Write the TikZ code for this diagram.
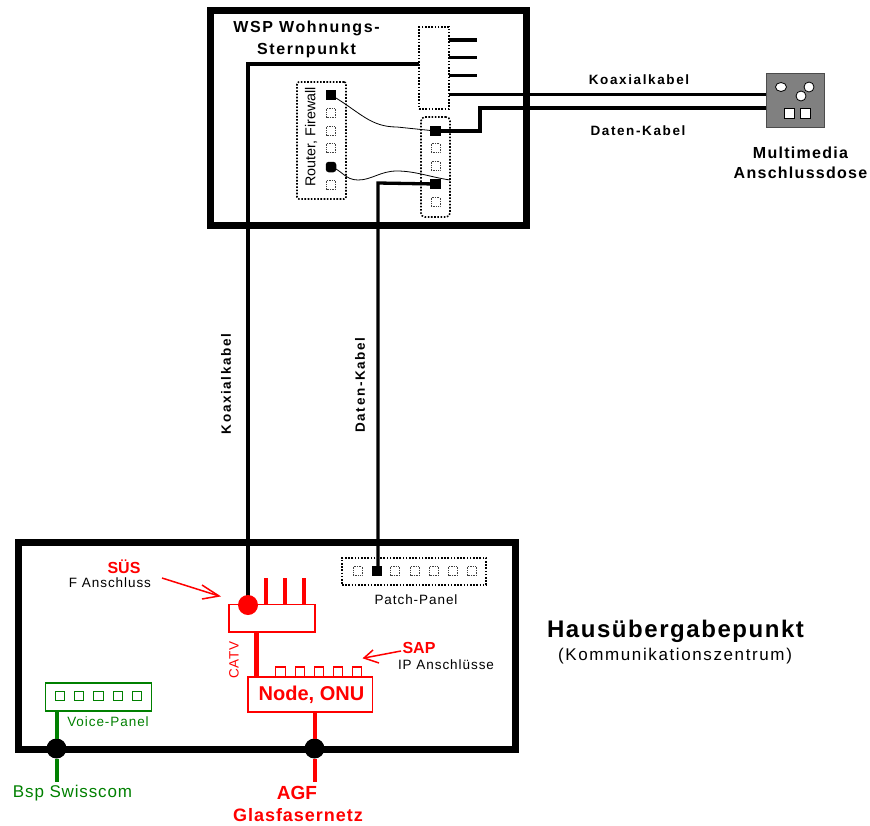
\documentclass[tikz,border=0pt]{standalone}
\usepackage{fontspec}
\usetikzlibrary{shapes.geometric}
\setmainfont{Liberation Sans}
\definecolor{rd}{RGB}{255,0,0}
\definecolor{gn}{RGB}{0,128,0}
\definecolor{dosegray}{RGB}{128,128,128}
\newcommand{\fsz}[1]{\fontsize{#1}{#1}\selectfont}
\newcommand{\spc}[1]{\addfontfeature{LetterSpace=#1}}
\begin{document}
\begin{tikzpicture}[x=1pt,y=-1pt,
  every node/.style={outer sep=0pt},
  heavybox/.style={draw=black,line width=7pt,inner sep=0pt,rectangle,anchor=north west},
  cable/.style={draw=black,line width=3.3pt},
  thincable/.style={draw=black,line width=0.8pt},
  dotbox/.style={draw=black,line width=1.6pt,dash pattern=on 1.6pt off 1.6pt,inner sep=0pt,anchor=north west},
  portempty/.style={draw=black!75,line width=0.7pt,dash pattern=on 1pt off 0.7pt,minimum size=9pt,inner sep=0pt,fill=white},
  portfull/.style={fill=black,minimum size=10.5pt,inner sep=0pt},
  redport/.style={draw=rd,line width=1.2pt,minimum width=9.5pt,minimum height=10pt,inner sep=0pt,fill=white},
  greenport/.style={draw=gn,line width=1.2pt,minimum size=9.5pt,inner sep=0pt},
  redbox/.style={draw=rd,line width=1.5pt,inner sep=0pt,anchor=north west,fill=white},
  redline/.style={draw=rd,line width=3.5pt},
  greenline/.style={draw=gn,line width=4pt},
  bk/.style={text=black,inner sep=0pt,align=center},
  bigdot/.style={circle,fill=black,minimum size=20pt,inner sep=0pt},
  cablelbl/.style={bk,font=\fsz{13.5}\bfseries\spc{12}},
  smalllbl/.style={bk,font=\fsz{13.5}\spc{7}},
  ]
\useasboundingbox (0,0) rectangle (870,825);

% WSP
\node[heavybox,minimum width=316pt,minimum height=215pt] (wsp) at (210,10) {};
\node[bk,font=\fsz{16}\bfseries\spc{10}] (wsptxt) at (306.5,39) {WSP Wohnungs-\\[6pt]Sternpunkt};
\node[dotbox,minimum width=30pt,minimum height=82pt] (split) at (419,27) {};
\node[dotbox,minimum width=49pt,minimum height=117pt,rounded corners=2pt] (router) at (297,82) {};
\node[dotbox,minimum width=29pt,minimum height=100pt,rounded corners=4pt] (wpatch) at (421,117) {};
\node[bk,rotate=90,font=\fsz{14.3}] (routertxt) at (311,137) {Router, Firewall};
\node[portfull] (r1) at (331,95) {};
\node[portempty] (r2) at (331,113) {};
\node[portempty] (r3) at (331,131) {};
\node[portempty] (r4) at (331,148) {};
\node[portfull,rounded corners=3pt] (r5) at (331,167) {};
\node[portempty] (r6) at (331,185) {};
\node[portfull] (w1) at (435.5,131) {};
\node[portempty] (w2) at (435.5,148) {};
\node[portempty] (w3) at (435.5,166) {};
\node[portfull] (w4) at (435.5,184) {};
\node[portempty] (w5) at (435.5,202) {};
\coordinate (c1) at (477,40);
\coordinate (c2) at (477,57.5);
\coordinate (c3) at (477,75.5);
\draw[cable] (449,40) -- (c1);
\draw[cable] (449,57.5) -- (c2);
\draw[cable] (449,75.5) -- (c3);
\coordinate (w4end) at (450,180);
\draw[thincable] (r1.center) .. controls (360,112) and (370,127) .. (397,127) -- (w1.center);
\draw[thincable] (r5.center) .. controls (342,170) and (345,180) .. (358,180) .. controls (372,180) and (380,171) .. (397,171) .. controls (415,171) and (430,177) .. (w4end);

% Dose
\node[draw=black!70,line width=1pt,fill=dosegray,minimum width=58pt,minimum height=54pt,inner sep=0pt,anchor=north west] (dose) at (766,73) {};
\node[ellipse,fill=white,draw=black,line width=.8pt,minimum width=11pt,minimum height=9pt,inner sep=0pt] (h1) at (781,87) {};
\node[circle,fill=white,draw=black,line width=.8pt,minimum width=10pt,inner sep=0pt] (h2) at (809,87) {};
\node[circle,fill=white,draw=black,line width=.8pt,minimum width=10pt,inner sep=0pt] (h3) at (801,96) {};
\node[fill=white,draw=black,line width=.8pt,minimum size=10pt,inner sep=0pt] (s1) at (789,113) {};
\node[fill=white,draw=black,line width=.8pt,minimum size=10pt,inner sep=0pt] (s2) at (805,113) {};
\coordinate (coaxout) at (449,94.5);
\coordinate (coaxin) at (766,94.5);
\coordinate (datin) at (766,108);
\draw[cable] (coaxout) -- (coaxin);
\draw[cable] (w1.center) -- (480,131) -- (480,108) -- (datin);
\node[cablelbl] (lk) at (639,79.5) {Koaxialkabel};
\node[cablelbl] (ld) at (638,130.5) {Daten-Kabel};
\node[bk,font=\fsz{16}\bfseries\spc{8}] (dosetxt) at (800.5,163) {Multimedia\\[4pt]Anschlussdose};

% House box
\node[heavybox,minimum width=497pt,minimum height=207pt] (hup) at (18,542) {};
\node[dotbox,minimum width=144pt,minimum height=27pt,line width=1.4pt] (ppanel) at (342,558) {};
\foreach \n/\x in {p1/357.5,p3/395,p4/415,p5/434,p6/453,p7/472}
  \node[portempty] (\n) at (\x,571) {};
\node[portfull] (p2) at (377,571) {};
\node[smalllbl] (pptxt) at (416,600) {Patch-Panel};

% Vertical cables
\draw[cable] (split.west |- 0,64) -- (248,64) -- (248,605);
\draw[cable] (w4.center) -- (378,183) -- (378,571);
\node[cablelbl,rotate=90] (lkv) at (226,384) {Koaxialkabel};
\node[cablelbl,rotate=90] (ldv) at (360,385) {Daten-Kabel};

% red part
\node[redbox,minimum width=86pt,minimum height=27.5pt] (sus) at (229,604.5) {};
\foreach \x in {266,285,304} \draw[redline] (\x,578) -- (\x,604.5);
\node[circle,fill=rd,minimum size=20pt,inner sep=0pt] (susdot) at (248,605) {};
\foreach \n/\x in {i1/280.5,i2/300,i3/319,i4/338,i5/357}
  \node[redport] (\n) at (\x,672) {};
\node[redbox,minimum width=124.5pt,minimum height=35pt] (node) at (248,677) {};
\node[bk,font=\fsz{20}\bfseries,text=rd] (nodetxt) at (311.5,694.5) {Node, ONU};
\draw[draw=rd,line width=5pt] (256.5,632) -- (256.5,677);
\node[bk,rotate=90,font=\fsz{13.5}\spc{4},text=rd] (catv) at (234,660) {CATV};
\node[bk,font=\fsz{16}\bfseries,text=rd] (sustxt) at (124,567) {SÜS};
\node[smalllbl] (ftxt) at (110,583) {F Anschluss};
\coordinate (a1s) at (162,578);
\coordinate (a1e) at (219,596);
\draw[rd,line width=1.5pt] (a1s) -- (a1e);
\draw[rd,line width=1.5pt] (202,585) -- (a1e) -- (202,599);
\node[bk,font=\fsz{16}\bfseries,text=rd] (saptxt) at (419,647.5) {SAP};
\node[smalllbl] (iptxt) at (446,664.5) {IP Anschlüsse};
\coordinate (a2s) at (401,651);
\coordinate (a2e) at (364,658);
\draw[rd,line width=1.5pt] (a2s) -- (a2e);
\draw[rd,line width=1.5pt] (373,650) -- (a2e) -- (379,663);

% green part
\node[draw=gn,line width=1.5pt,minimum width=106pt,minimum height=28pt,inner sep=0pt,anchor=north west] (voice) at (45.5,683) {};
\foreach \n/\x in {v1/60,v2/79,v3/98.6,v4/118,v5/137}
  \node[greenport] (\n) at (\x,696) {};
\node[smalllbl,text=gn] (vtxt) at (108,722) {Voice-Panel};
\node[bigdot] (d1) at (56.5,748.5) {};
\node[bigdot] (d2) at (314.5,748.5) {};
\coordinate (gend) at (56.5,782);
\coordinate (rend) at (314.5,782);
\draw[greenline] (56.5,711) -- (d1);
\draw[greenline] (d1) -- (gend);
\draw[draw=rd,line width=4pt] (314.5,712) -- (d2);
\draw[draw=rd,line width=4pt] (d2) -- (rend);
\node[bk,font=\fsz{17}\spc{5},text=gn] (bsp) at (72.5,793) {Bsp Swisscom};
\node[bk,font=\fsz{19}\bfseries,text=rd] (agf) at (297,793) {AGF};
\node[bk,font=\fsz{18}\bfseries\spc{5.5},text=rd] (glas) at (298,815) {Glasfasernetz};

\node[bk,font=\fsz{24}\bfseries\spc{6.5}] (haus) at (675.5,631.5) {Hausübergabepunkt};
\node[bk,font=\fsz{17}\spc{9.5}] (komm) at (675,656.5) {(Kommunikationszentrum)};
\end{tikzpicture}
\end{document}
